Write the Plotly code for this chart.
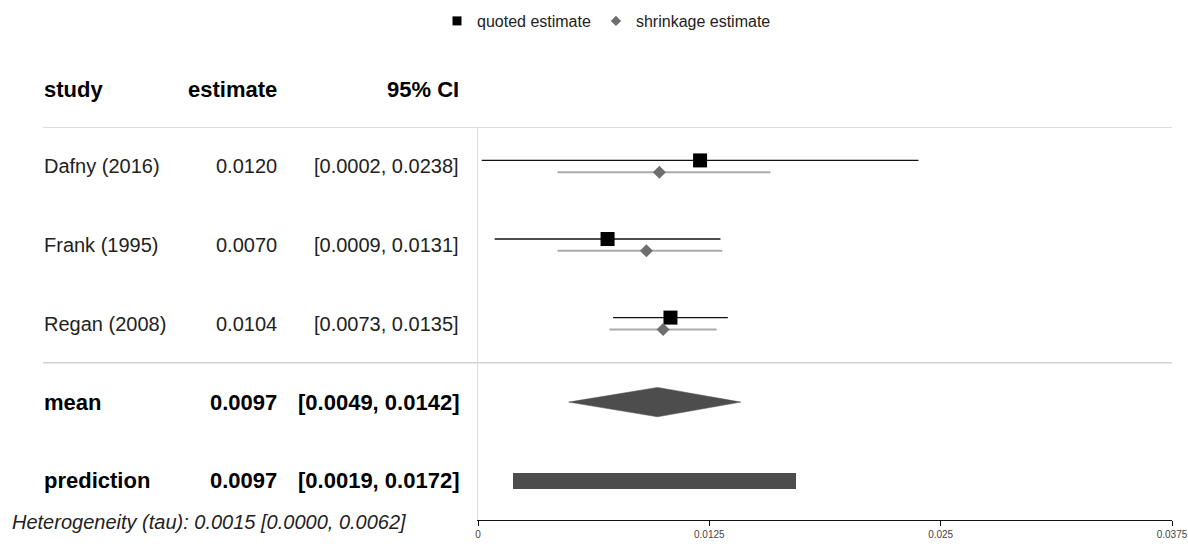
import plotly.graph_objects as go

# ---- data -------------------------------------------------------------
studies = ["Dafny (2016)", "Frank (1995)", "Regan (2008)"]
quoted_est = [0.0120, 0.0070, 0.0104]
quoted_lo = [0.0002, 0.0009, 0.0073]
quoted_hi = [0.0238, 0.0131, 0.0135]

shrink_est = [0.0098, 0.0091, 0.0100]
shrink_lo = [0.0043, 0.0043, 0.0071]
shrink_hi = [0.0158, 0.0132, 0.0129]

mean_est, mean_lo, mean_hi = 0.0097, 0.0049, 0.0142
pred_est, pred_lo, pred_hi = 0.0097, 0.0019, 0.0172

tau_est, tau_lo, tau_hi = 0.0015, 0.0000, 0.0062

x_ticks = [0, 0.0125, 0.025, 0.0375]
x_ticktext = ["0", "0.0125", "0.025", "0.0375"]

# ---- layout helpers ---------------------------------------------------
W, H = 1188, 544
FONT = "Liberation Sans, Arial, Helvetica, sans-serif"
rows = [1, 2, 3]          # study rows (y axis is row index, reversed)
ROW_MEAN, ROW_PRED = 4, 5
OFF = 0.075               # vertical offset between quoted/shrinkage marks

def px_x(p):
    return p / W

def px_y(p):
    return 1 - p / H

# column anchors (annotation boxes carry a couple of px of padding)
col_study, col_est, col_ci = px_x(41.5), px_x(279), px_x(461)

fig = go.Figure()

# quoted estimates with CI
fig.add_trace(go.Scatter(
    x=quoted_est, y=[r - OFF for r in rows], mode="markers",
    marker=dict(symbol="square", size=14, color="black"),
    error_x=dict(type="data", symmetric=False,
                 array=[h - e for h, e in zip(quoted_hi, quoted_est)],
                 arrayminus=[e - l for e, l in zip(quoted_est, quoted_lo)],
                 width=0, thickness=1.3, color="#111111"),
    showlegend=False, hoverinfo="skip"))

# shrinkage estimates with CI
fig.add_trace(go.Scatter(
    x=shrink_est, y=[r + OFF for r in rows], mode="markers",
    marker=dict(symbol="diamond", size=10, color="#6e6e6e"),
    error_x=dict(type="data", symmetric=False,
                 array=[h - e for h, e in zip(shrink_hi, shrink_est)],
                 arrayminus=[e - l for e, l in zip(shrink_est, shrink_lo)],
                 width=0, thickness=2, color="#ababab"),
    showlegend=False, hoverinfo="skip"))

# pooled mean diamond
dh = 0.187
fig.add_trace(go.Scatter(
    x=[mean_lo, mean_est, mean_hi, mean_est, mean_lo],
    y=[ROW_MEAN, ROW_MEAN - dh, ROW_MEAN, ROW_MEAN + dh, ROW_MEAN],
    mode="lines", fill="toself", fillcolor="#4d4d4d",
    line=dict(color="#4d4d4d", width=0.5),
    showlegend=False, hoverinfo="skip"))

# prediction interval bar
fig.add_trace(go.Bar(
    x=[pred_hi - pred_lo], base=[pred_lo], y=[ROW_PRED], orientation="h",
    width=0.2, marker=dict(color="#4d4d4d", line=dict(width=0)),
    showlegend=False, hoverinfo="skip"))

# legend entries
fig.add_trace(go.Scatter(
    x=[None], y=[None], mode="markers", name="quoted estimate",
    marker=dict(symbol="square", size=9, color="black")))
fig.add_trace(go.Scatter(
    x=[None], y=[None], mode="markers", name="shrinkage estimate",
    marker=dict(symbol="diamond", size=8, color="#6e6e6e")))

annotations = []

def text(x, y, s, anchor, size=20, bold=False, color="#222222",
         yref="y", italic=False):
    if bold:
        s = f"<b>{s}</b>"
    if italic:
        s = f"<i>{s}</i>"
    annotations.append(dict(
        x=x, y=y, xref="paper", yref=yref, text=s, showarrow=False,
        xanchor=anchor, yanchor="middle",
        font=dict(family=FONT, size=size, color=color)))

# header row
hy = px_y(90)
text(col_study, hy, "study", "left", 22, True, "black", "paper")
text(col_est, hy, "estimate", "right", 22, True, "black", "paper")
text(col_ci, hy, "95% CI", "right", 22, True, "black", "paper")

# study rows
for r, name, e, lo, hi in zip(rows, studies, quoted_est, quoted_lo, quoted_hi):
    text(col_study, r, name, "left")
    text(col_est, r, f"{e:.4f}", "right")
    text(col_ci, r, f"[{lo:.4f}, {hi:.4f}]", "right")

# summary rows
for r, name, e, lo, hi in [(ROW_MEAN, "mean", mean_est, mean_lo, mean_hi),
                           (ROW_PRED, "prediction", pred_est, pred_lo, pred_hi)]:
    text(col_study, r, name, "left", 22, True, "black")
    text(col_est, r, f"{e:.4f}", "right", 22, True, "black")
    text(col_ci, r, f"[{lo:.4f}, {hi:.4f}]", "right", 22, True, "black")

# heterogeneity footnote
text(px_x(10), px_y(521.5),
     f"Heterogeneity (tau): {tau_est:.4f} [{tau_lo:.4f}, {tau_hi:.4f}]",
     "left", 20, False, "#222222", "paper", italic=True)

# separators
shapes = [dict(type="line", xref="paper", yref="y", x0=px_x(43), x1=px_x(1172),
               y0=yy, y1=yy, line=dict(color="#d2d2d2", width=1.5))
          for yy in (0.5, 3.5)]

fig.update_layout(
    width=W, height=H, autosize=False,
    margin=dict(l=0, r=0, t=0, b=0, autoexpand=False),
    paper_bgcolor="white", plot_bgcolor="white",
    font=dict(family=FONT, color="#222222"),
    annotations=annotations, shapes=shapes,
    bargap=0,
    xaxis=dict(domain=[px_x(478), px_x(1172)], range=[0, 0.0375],
               automargin=False,
               tickvals=x_ticks, ticktext=x_ticktext,
               ticks="outside", ticklen=5, tickcolor="#111111",
               showline=True, linecolor="#111111", linewidth=1,
               showgrid=False, zeroline=False,
               tickfont=dict(family=FONT, size=10, color="#444444")),
    yaxis=dict(domain=[px_y(520), px_y(127)], range=[5.5, 0.5],
               automargin=False,
               showticklabels=False, ticks="", showgrid=False, zeroline=False,
               showline=True, linecolor="#dddddd", linewidth=1),
    legend=dict(orientation="h", x=px_x(437), xanchor="left",
                y=px_y(21), yanchor="middle",
                font=dict(family=FONT, size=16, color="#222222"),
                itemclick=False, bgcolor="rgba(0,0,0,0)"),
)

fig.write_html("out.html", config={"responsive": False})
